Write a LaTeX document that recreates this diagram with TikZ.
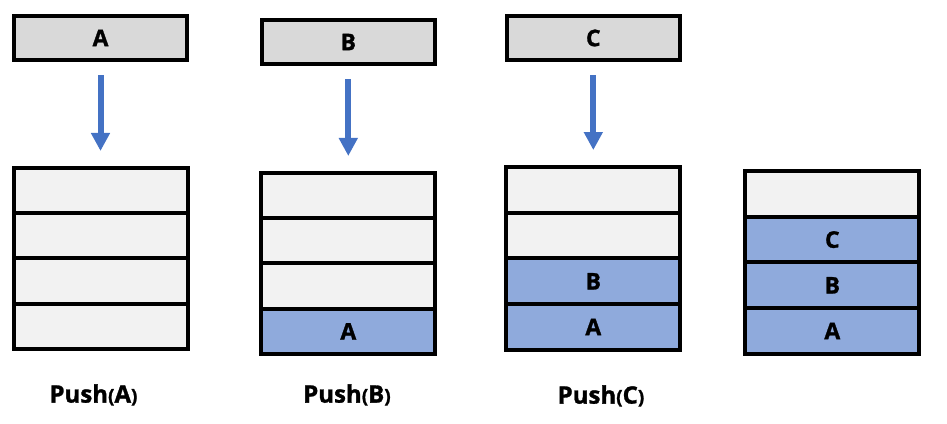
\documentclass[tikz,border=0pt]{standalone}
\usepackage{fontspec}
\setmainfont{Open Sans}[BoldFeatures={FakeBold=1.2}]
\usetikzlibrary{arrows.meta}
\definecolor{topgray}{HTML}{D9D9D9}
\definecolor{emptycell}{HTML}{F2F2F2}
\definecolor{fullcell}{HTML}{8FAADC}
\definecolor{arrowblue}{HTML}{4472C4}
\newcommand{\lbl}[1]{Push{\fontsize{19}{20}\selectfont(}#1{\fontsize{19}{20}\selectfont)}}
\begin{document}
\begin{tikzpicture}[x=1pt,y=-1pt,
  txt/.style={font=\fontsize{23}{26}\selectfont\bfseries},
  topbox/.style={draw=black,line width=4pt,fill=topgray,minimum width=173pt,minimum height=44pt,inner sep=0pt,txt},
  cellbox/.style={draw=black,line width=4pt,minimum width=174pt,inner sep=0pt,txt},
  emptyc/.style={cellbox,fill=emptycell},
  fullc/.style={cellbox,fill=fullcell},
  pusharrow/.style={draw=arrowblue,line width=6pt,-{Triangle[width=18pt,length=18pt]},shorten <=13pt,shorten >=15pt},
  pushlabel/.style={font=\fontsize{24}{26}\selectfont\bfseries,inner sep=0pt}
]
\useasboundingbox (0,0) rectangle (947,423);
% top boxes
\node[topbox] (ta) at (100.5,38) {A};
\node[topbox] (tb) at (348.3,42) {B};
\node[topbox] (tc) at (593.3,38) {C};
% stack A
\node[emptyc,minimum height=45.25pt] (a1) at (100.5,190.6) {};
\node[emptyc,minimum height=45.25pt] (a2) at (100.5,235.9) {};
\node[emptyc,minimum height=45.25pt] (a3) at (100.5,281.1) {};
\node[emptyc,minimum height=45.25pt] (a4) at (100.5,326.4) {};
% stack B
\node[emptyc,minimum height=45.25pt] (b1) at (348.3,195.6) {};
\node[emptyc,minimum height=45.25pt] (b2) at (348.3,240.9) {};
\node[emptyc,minimum height=45.25pt] (b3) at (348.3,286.1) {};
\node[fullc,minimum height=45.25pt] (b4) at (348.3,331.4) {A};
% stack C
\node[emptyc,minimum height=45.7pt] (c1) at (593.3,189.9) {};
\node[emptyc,minimum height=45.7pt] (c2) at (593.3,235.6) {};
\node[fullc,minimum height=45.7pt] (c3) at (593.3,281.3) {B};
\node[fullc,minimum height=45.7pt] (c4) at (593.3,327.0) {A};
% stack D
\node[emptyc,minimum height=45.7pt] (d1) at (832.3,193.9) {};
\node[fullc,minimum height=45.7pt] (d2) at (832.3,239.6) {C};
\node[fullc,minimum height=45.7pt] (d3) at (832.3,285.3) {B};
\node[fullc,minimum height=45.7pt] (d4) at (832.3,331.0) {A};
% arrows
\draw[pusharrow] (ta.south) -- (a1.north);
\draw[pusharrow] (tb.south) -- (b1.north);
\draw[pusharrow] (tc.south) -- (c1.north);
% labels
\node[pushlabel] (la) at (93.5,395) {\lbl{A}};
\node[pushlabel] (lb) at (347,395) {\lbl{B}};
\node[pushlabel] (lc) at (601,396) {\lbl{C}};
\end{tikzpicture}
\end{document}
